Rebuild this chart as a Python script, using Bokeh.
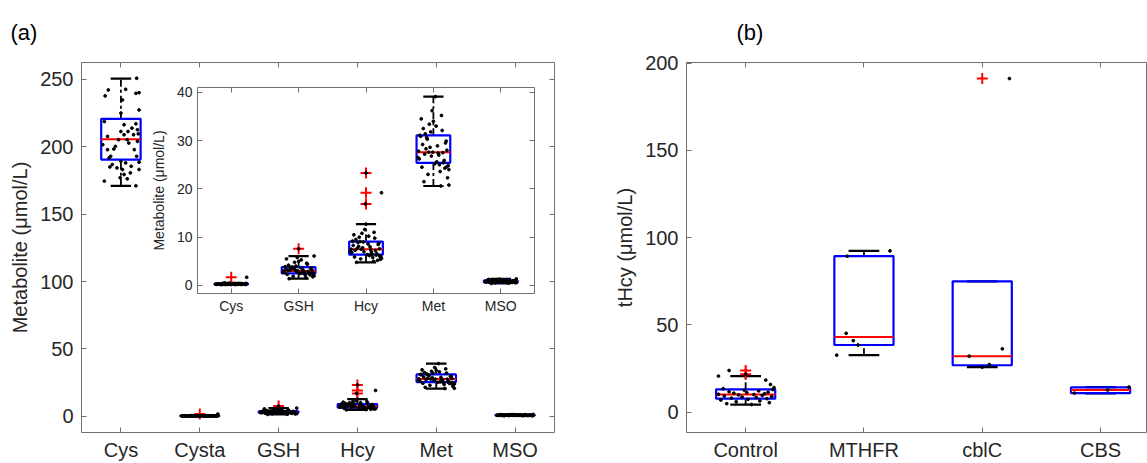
from bokeh.plotting import figure
from bokeh.models import FixedTicker, LinearAxis, Range1d
from bokeh.layouts import row, column
from bokeh.embed import file_html
from bokeh.resources import INLINE

FONT = "Liberation Sans"
TEXT = "#262626"
FRAME = "#707070"
BLUE = "#0000ff"
RED = "#ff0000"

# ---------------- Panel (a) data ----------------
a_cats = ["Cys", "Cysta", "GSH", "Hcy", "Met", "MSO"]
a_q1 = [190.5, 0.22, 2.5, 6.4, 25.4, 0.65]
a_med = [205.5, 0.28, 3.0, 7.5, 27.6, 0.80]
a_q3 = [220.7, 0.34, 3.8, 9.1, 31.1, 1.05]
a_lo = [171.0, 0.18, 1.4, 4.8, 20.6, 0.42]
a_hi = [250.5, 0.55, 6.1, 12.7, 39.1, 1.35]
a_out_cat = [2, 3, 4, 4, 4]
a_out_val = [1.7, 7.6, 16.9, 19.2, 23.3]

cys_vals = [237.7, 242.1, 239.6, 240.1, 234.7, 242.6, 227.3, 218.7, 224.9, 217.0,
            207.7, 216.3, 212.6, 213.8, 208.9, 209.6, 205.2, 205.2, 197.8, 198.3,
            197.8, 202.7, 204.0, 191.7, 192.9, 186.8, 185.0, 188.5, 183.1, 179.4,
            180.6, 174.5, 177.0, 171.0, 189.2, 188.0, 192.9, 201.5, 200.3, 208.9,
            211.3, 211.3, 185.5, 183.1, 184.3, 176.2, 250.8]
cys_jit = [-0.20, -0.16, 0.19, 0.23, 0.02, 0.06, 0.23, -0.21, 0.00, 0.19,
           -0.17, 0.04, 0.21, 0.14, 0.04, 0.22, 0.08, -0.03, -0.17, -0.09,
           0.17, 0.10, 0.21, -0.15, 0.20, -0.11, -0.14, 0.23, 0.02, 0.04,
           0.12, -0.21, -0.01, 0.19, 0.00, 0.06, -0.13, -0.23, -0.07, 0.16,
           0.09, 0.00, 0.13, 0.23, -0.05, 0.08, 0.20]

jit = [0.14, -0.19, 0.21, -0.06, 0.09, -0.22, -0.02, 0.17, -0.12, 0.05,
       -0.15, 0.20, 0.11, -0.09, -0.18, 0.02, -0.05, 0.23, 0.13, -0.21,
       0.07, 0.23, -0.14, 0.18, -0.03, -0.20, 0.10, 0.00, 0.16, -0.11,
       0.04, -0.17, -0.01, 0.19, -0.08, 0.12, -0.23, 0.06, 0.22, -0.13,
       -0.04, 0.15, -0.10, 0.08, -0.16, 0.20, 0.03, -0.07, 0.00, 0.11]

cysta_vals = [0.25, 0.30, 0.20, 0.35, 0.28, 0.22, 0.40, 0.31, 0.26, 0.33,
              0.19, 0.29, 0.36, 0.24, 0.27, 0.32, 0.21, 0.38, 0.30, 0.25,
              0.34, 1.70, 0.23, 0.28, 0.45, 0.30, 0.26, 0.20, 0.37, 0.29,
              0.31, 0.27, 0.24, 0.33, 0.22, 0.35, 0.28, 0.18, 0.42, 0.26,
              0.30, 0.23, 0.55, 0.27, 0.32]
gsh_vals = [2.9, 3.3, 1.8, 4.8, 2.4, 3.0, 5.8, 2.2, 3.7, 2.6,
            4.2, 3.1, 1.6, 3.8, 5.5, 2.5, 3.2, 2.0, 4.4, 2.7,
            3.0, 6.1, 1.4, 3.5, 2.8, 3.9, 2.1, 5.0, 2.5, 3.4,
            5.3, 2.3, 3.0, 3.6, 1.9, 4.6, 2.8, 3.3, 2.4, 3.1,
            4.0, 2.7, 3.8, 2.9, 3.2, 2.6, 3.7, 3.5, 7.6]
hcy_vals = [7.2, 8.3, 5.4, 10.8, 6.5, 7.5, 11.6, 5.2, 8.9, 6.2,
            9.5, 7.6, 5.0, 9.1, 10.5, 6.4, 7.8, 5.6, 9.8, 6.8,
            7.4, 19.2, 4.8, 8.5, 7.0, 9.2, 5.8, 12.7, 6.6, 8.1,
            10.2, 5.9, 16.9, 8.7, 5.5, 11.0, 7.1, 8.0, 6.0, 7.7,
            9.0, 6.3, 10.0, 6.9, 7.3, 6.1, 8.6, 7.5, 23.3]
met_vals = [27.5, 30.9, 22.3, 33.4, 25.0, 27.8, 36.2, 24.3, 31.4, 25.6,
            32.5, 28.0, 20.6, 30.3, 34.5, 25.2, 28.6, 24.0, 32.1, 26.2,
            27.4, 20.8, 21.5, 29.5, 26.8, 31.1, 23.6, 34.0, 25.9, 28.3,
            33.0, 24.5, 27.6, 29.9, 23.0, 35.2, 26.5, 28.9, 24.8, 27.2,
            31.8, 25.4, 30.6, 27.0, 29.2, 24.6, 39.1, 27.6]
mso_vals = [0.80, 1.05, 0.60, 1.20, 0.70, 0.82, 1.30, 0.64, 1.00, 0.72,
            1.10, 0.85, 0.50, 1.02, 1.25, 0.66, 0.88, 0.58, 1.15, 0.74,
            0.80, 1.35, 0.42, 0.94, 0.78, 1.04, 0.62, 1.18, 0.76, 0.90,
            1.12, 0.65, 0.84, 0.96, 0.55, 1.07, 0.75, 0.87, 0.68, 0.81,
            0.98, 0.71, 1.05, 0.79, 0.92, 0.68]

a_yticks = [0, 50, 100, 150, 200, 250]

# inset (same data, except Cys)
in_cats = ["Cys", "GSH", "Hcy", "Met", "MSO"]
in_yticks = [0, 10, 20, 30, 40]

# ---------------- Panel (b) data ----------------
b_cats = ["Control", "MTHFR", "cblC", "CBS"]
b_q1 = [7.8, 38.5, 26.9, 11.0]
b_med = [10.1, 43.1, 32.1, 12.7]
b_q3 = [13.1, 89.4, 75.0, 14.2]
b_lo = [4.4, 32.7, 25.8, 10.8]
b_hi = [20.7, 92.4, 75.0, 14.4]
b_out_cat = [1, 1, 3]
b_out_val = [21.8, 23.9, 191.1]

ctrl_vals = [4.4, 4.9, 5.5, 6.0, 6.5, 7.0, 7.4, 7.8, 8.1, 8.4,
             8.7, 9.0, 9.3, 9.6, 9.9, 10.1, 10.3, 10.6, 10.9, 11.2,
             11.5, 11.8, 12.2, 12.6, 13.0, 13.5, 14.1, 15.9, 18.4, 20.7,
             21.8, 23.9]
ctrl_jit = [0.05, -0.16, 0.20, -0.08, 0.12, -0.21, 0.02, 0.18, -0.12, 0.09,
            -0.03, 0.22, -0.18, 0.14, -0.06, 0.07, -0.23, 0.16, -0.10, 0.01,
            0.19, -0.14, 0.11, -0.01, 0.23, -0.19, 0.24, 0.21, 0.17, -0.23,
            0.00, -0.14]
mthfr_vals = [89.4, 92.4, 45.2, 41.0, 38.5, 32.7]
mthfr_jit = [-0.14, 0.22, -0.15, -0.09, -0.05, -0.23]
cblc_vals = [32.1, 36.3, 27.3, 25.8, 191.1]
cblc_jit = [-0.11, 0.17, 0.06, 0.00, 0.23]
cbs_vals = [11.0, 12.7, 14.4]
cbs_jit = [-0.22, 0.06, 0.24]

b_yticks = [0, 50, 100, 150, 200]

panel_tags = ["(a)", "(b)"]


# ---------------- helpers ----------------
def make_fig(width, height, xr, yr, left, right, top, bottom, title=None):
    kw = dict(width=width, height=height, x_range=Range1d(*xr), y_range=Range1d(*yr),
              output_backend="svg", toolbar_location=None,
              min_border_left=left, min_border_right=right,
              min_border_top=top, min_border_bottom=bottom)
    if title is not None:
        kw["title"] = title
    p = figure(**kw)
    p.xgrid.visible = False
    p.ygrid.visible = False
    p.outline_line_color = FRAME
    p.outline_line_width = 1
    if title is not None:
        p.title.align = "left"
        p.title.vertical_align = "top"
        p.title.text_font = FONT
        p.title.text_font_size = "22px"
        p.title.text_font_style = "normal"
        p.title.text_color = "black"
        p.title.standoff = 32
    return p


def style_axis(ax, ticks, size, overrides=None, standoff=8):
    ax.ticker = FixedTicker(ticks=ticks)
    ax.major_tick_in = 5
    ax.major_tick_out = 0
    ax.minor_tick_line_color = None
    ax.axis_line_color = None
    ax.major_tick_line_color = FRAME
    ax.major_label_text_font = FONT
    ax.major_label_text_font_size = size
    ax.major_label_text_color = TEXT
    ax.major_label_standoff = standoff
    ax.axis_label_text_font = FONT
    ax.axis_label_text_font_style = "normal"
    ax.axis_label_text_color = TEXT
    if overrides:
        ax.major_label_overrides = overrides


def add_mirror(p, ticks, side):
    ax = LinearAxis(ticker=FixedTicker(ticks=ticks), major_label_standoff=0,
                    major_label_overrides={t: "" for t in ticks},
                    major_label_text_font_size="8px",
                    axis_line_color=None, major_tick_in=5,
                    major_tick_out=0, major_tick_line_color=FRAME,
                    minor_tick_line_color=None)
    p.add_layout(ax, side)


def draw_boxes(p, pos, q1, med, q3, lo, hi, out_pos, out_val, px, py, cap=0.13, half=0.25):
    p.segment(x0=pos, y0=q3, x1=pos, y1=hi, line_color="black", line_width=1.8,
              line_dash="7 3 3 3")
    p.segment(x0=pos, y0=lo, x1=pos, y1=q1, line_color="black", line_width=1.8,
              line_dash="7 3 3 3")
    p.segment(x0=[x - cap for x in pos], y0=hi, x1=[x + cap for x in pos], y1=hi,
              line_color="black", line_width=2.2)
    p.segment(x0=[x - cap for x in pos], y0=lo, x1=[x + cap for x in pos], y1=lo,
              line_color="black", line_width=2.2)
    p.vbar(x=pos, width=2 * half, bottom=q1, top=q3, fill_color=None,
           line_color=BLUE, line_width=2.2)
    p.segment(x0=[x - half for x in pos], y0=med, x1=[x + half for x in pos], y1=med,
              line_color=RED, line_width=2)
    p.scatter(x=out_pos, y=out_val, marker="cross", size=11, line_color=RED, line_width=2)
    p.scatter(x=px, y=py, size=2.8, color="black")


def group_points(groups):
    xs, ys = [], []
    for pos, vals, jj in groups:
        xs += [pos + j for j in jj[:len(vals)]]
        ys += list(vals)
    return xs, ys


# ---------------- Panel (a) main ----------------
pa = make_fig(564, 463, (0.5, 6.5), (-12.0, 262.5), 81, 10, 62, 29, title=panel_tags[0])
pa.title.offset = -71
a_pos = list(range(1, len(a_cats) + 1))
style_axis(pa.xaxis[0], a_pos, "20px", {i: c for i, c in zip(a_pos, a_cats)}, standoff=6)
style_axis(pa.yaxis[0], a_yticks, "20px", standoff=8)
pa.yaxis[0].axis_label = "Metabolite (μmol/L)"
pa.yaxis[0].axis_label_text_font_size = "20px"
pa.yaxis[0].axis_label_standoff = 6
add_mirror(pa, a_pos, "above")
add_mirror(pa, a_yticks, "right")

ax_, ay_ = group_points([(1, cys_vals, cys_jit), (2, cysta_vals, jit), (3, gsh_vals, jit),
                         (4, hcy_vals, jit), (5, met_vals, jit), (6, mso_vals, jit)])
draw_boxes(pa, a_pos, a_q1, a_med, a_q3, a_lo, a_hi, a_out_cat, a_out_val, ax_, ay_)

# ---------------- inset (its side borders follow the column's alignment) ----------------
inset = make_fig(428, 236, (0.5, 5.5), (-1.66, 41.0), 81, 10, 5, 25)
inset.border_fill_color = None
inset.background_fill_color = "white"
in_pos = list(range(1, len(in_cats) + 1))
style_axis(inset.xaxis[0], in_pos, "14px", {i: c for i, c in zip(in_pos, in_cats)}, standoff=4)
style_axis(inset.yaxis[0], in_yticks, "14px", standoff=5)
inset.yaxis[0].axis_label = "Metabolite (μmol/L)"
inset.yaxis[0].axis_label_text_font_size = "14px"
inset.yaxis[0].axis_label_standoff = 7
add_mirror(inset, in_pos, "above")
add_mirror(inset, in_yticks, "right")
ix_, iy_ = group_points([(1, cysta_vals, jit), (2, gsh_vals, jit), (3, hcy_vals, jit),
                         (4, met_vals, jit), (5, mso_vals, jit)])
draw_boxes(inset, in_pos, a_q1[1:], a_med[1:], a_q3[1:], a_lo[1:], a_hi[1:],
           [c - 1 for c in a_out_cat], a_out_val, ix_, iy_, cap=0.15)
inset.margin = (-381, 0, 0, 116)

# ---------------- Panel (b) ----------------
pb = make_fig(583, 463, (0.5, 4.397), (-11.6, 200.3), 122, 0, 62, 29, title=panel_tags[1])
pb.title.offset = 50
b_pos = list(range(1, len(b_cats) + 1))
style_axis(pb.xaxis[0], b_pos, "20px", {i: c for i, c in zip(b_pos, b_cats)}, standoff=6)
style_axis(pb.yaxis[0], b_yticks, "20px", standoff=8)
pb.yaxis[0].axis_label = "tHcy (μmol/L)"
pb.yaxis[0].axis_label_text_font_size = "20px"
pb.yaxis[0].axis_label_standoff = 6
add_mirror(pb, b_pos, "above")

bx_, by_ = group_points([(1, ctrl_vals, ctrl_jit), (2, mthfr_vals, mthfr_jit),
                         (3, cblc_vals, cblc_jit), (4, cbs_vals, cbs_jit)])
draw_boxes(pb, b_pos, b_q1, b_med, b_q3, b_lo, b_hi, b_out_cat, b_out_val, bx_, by_)

layout = row(column(pa, inset), pb)
open("out.html", "w").write(file_html(layout, INLINE))
